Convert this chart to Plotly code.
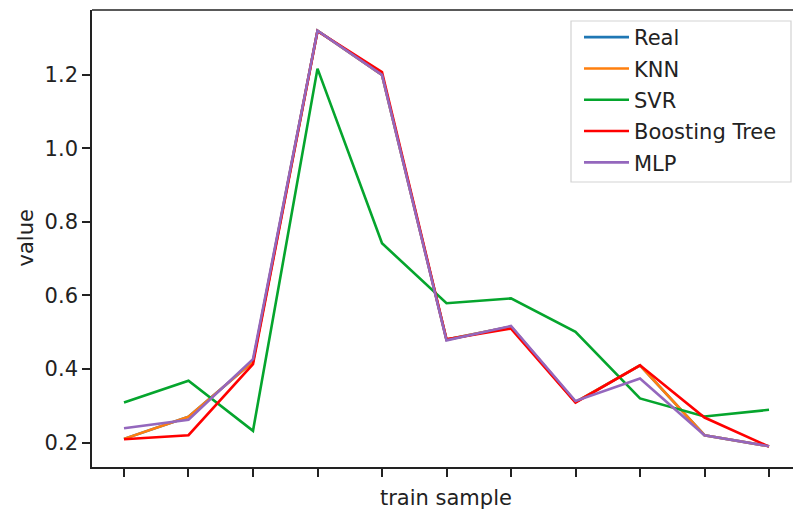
import plotly.graph_objects as go

samples = list(range(11))
real = [0.21, 0.27, 0.42, 1.32, 1.20, 0.48, 0.515, 0.31, 0.41, 0.22, 0.19]
knn = [0.21, 0.27, 0.42, 1.32, 1.20, 0.48, 0.515, 0.31, 0.41, 0.22, 0.19]
svr = [0.309, 0.368, 0.232, 1.217, 0.742, 0.579, 0.592, 0.501, 0.320, 0.271, 0.289]
boost = [0.209, 0.220, 0.413, 1.319, 1.208, 0.481, 0.510, 0.309, 0.410, 0.268, 0.189]
mlp = [0.239, 0.262, 0.427, 1.320, 1.200, 0.478, 0.517, 0.313, 0.374, 0.220, 0.190]

series = [
    ("Real", real, "#1f77b4"),
    ("KNN", knn, "#ff7f0e"),
    ("SVR", svr, "#05a52d"),
    ("Boosting Tree", boost, "#ff0000"),
    ("MLP", mlp, "#9467bd"),
]

FONT = "DejaVu Sans"
FS = 21
W, H = 793, 516
L, T, B = 92, 10, 49
PW, PH = W - L, H - T - B

def px(xpix):
    return (xpix - L) / PW

def py(ypix):
    return 1 - (ypix - T) / PH

fig = go.Figure()
for i, (name, vals, col) in enumerate(series):
    fig.add_trace(go.Scatter(x=samples, y=vals, mode="lines", name=name,
                             legendgroup=f"g{i}",
                             line=dict(color=col, width=2.6)))

fig.update_layout(
    width=W, height=H,
    margin=dict(l=L, r=0, t=T, b=B),
    paper_bgcolor="white", plot_bgcolor="white",
    font=dict(family=FONT, color="#222222", size=FS),
    showlegend=True,
    legend=dict(x=px(579), y=py(17), xanchor="left", yanchor="top",
                bgcolor="rgba(0,0,0,0)", borderwidth=0,
                font=dict(family=FONT, size=FS, color="#222222"),
                itemwidth=45,
                traceorder="grouped", tracegroupgap=1),
    xaxis=dict(range=[-0.496, 10.372], tickvals=samples, showticklabels=False,
               ticks="outside", ticklen=8, tickwidth=1.5, tickcolor="#222",
               showgrid=False, zeroline=False, showline=True,
               linecolor="#222", linewidth=1.6),
    yaxis=dict(range=[0.1335, 1.3765], tickvals=[0.2, 0.4, 0.6, 0.8, 1.0, 1.2],
               tickformat=".1f", ticks="outside", ticklen=8, tickwidth=1.5,
               tickcolor="#222", showgrid=False, zeroline=False, showline=True,
               linecolor="#222", linewidth=1.6,
               tickfont=dict(family=FONT, size=FS, color="#222222")),
    shapes=[
        dict(type="line", xref="paper", yref="paper", x0=0, x1=1.05,
             y0=1, y1=1, line=dict(color="#222", width=1.6)),
        dict(type="rect", xref="paper", yref="paper", x0=px(571), x1=px(791),
             y0=py(182), y1=py(21), line=dict(color="#d3d3d3", width=1.2),
             fillcolor="rgba(255,255,255,0.8)", layer="above"),
    ],
    annotations=[
        dict(text="train sample", xref="paper", yref="paper", x=px(446),
             y=0, yshift=-31, xanchor="center", yanchor="middle", showarrow=False,
             font=dict(family=FONT, size=FS, color="#222222")),
        dict(text="value", xref="paper", yref="paper", x=0, xshift=-67,
             y=0.5, xanchor="center", yanchor="middle", textangle=-90,
             showarrow=False, font=dict(family=FONT, size=FS, color="#222222")),
    ],
)

fig.write_html("out.html")
